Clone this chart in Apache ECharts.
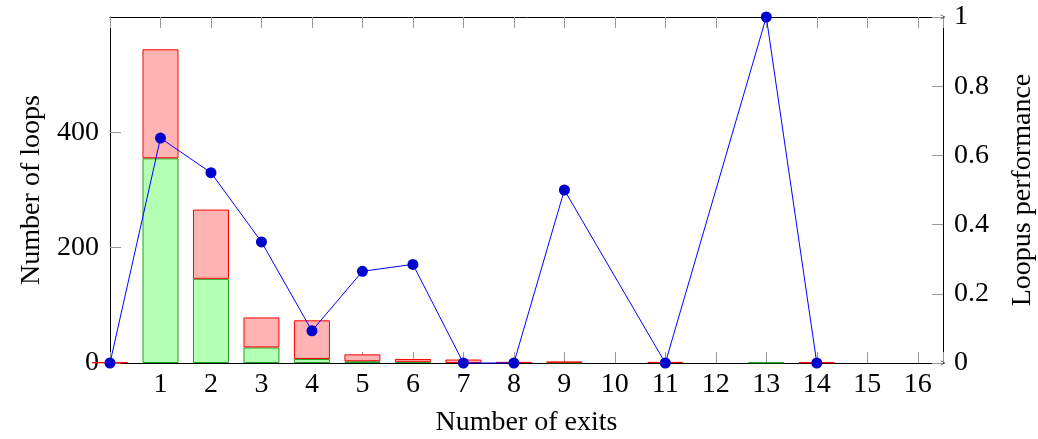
<!DOCTYPE html>
<html>
<head>
<meta charset="utf-8">
<script src="https://cdn.jsdelivr.net/npm/echarts@6/dist/echarts.min.js"></script>
<style>
  html, body { margin: 0; padding: 0; background: #fff; }
</style>
</head>
<body>
<div id='main' style='width: 1038px; height: 439px;'></div>
<script>
// number of exits (x) and loop counts per bar
const exits = [0, 1, 2, 3, 4, 5, 6, 7, 8, 9, 10, 11, 12, 13, 14, 15, 16]
const greenLoops = [0, 355, 146, 27, 7, 3, 2, 0, 0, 1, 0, 0, 0, 1, 0, 0, 0]
const redLoops = [1, 189, 120, 52, 67, 12, 5, 6, 2, 1, 0, 2, 0, 0, 1, 0, 0]

// Loopus performance line
const perfX = [0, 1, 2, 3, 4, 5, 6, 7, 8, 9, 11, 13, 14]
const perfY = [0, 0.65, 0.55, 0.35, 0.093, 0.265, 0.285, 0, 0, 0.5, 0, 1, 0]

const xMax = 16.5
const font = 'Liberation Serif'
const fs = 28
const chevron = 'path://M0,10 L5,0 L10,10 L9,10 L5,2 L1,10 Z'

// bars sit on a hidden category axis with half-unit slots so that 0..16.5 lines up
// with the visible value axis (stacking needs a category base axis)
const slots = []
for (let i = 0; i <= xMax * 2; i++) slots.push(String(i / 2))
const toSlots = (vals) => slots.map((s) => {
  const idx = exits.indexOf(Number(s))
  return idx >= 0 && vals[idx] ? vals[idx] : '-'
})

const chartDom = document.getElementById('main')
const myChart = echarts.init(chartDom)

const tickStyle = { show: true, inside: true, length: 11, lineStyle: { color: '#999', width: 1 } }
const axisLine = { show: true, onZero: false, lineStyle: { color: '#000', width: 1 } }
const arrowLine = { show: true, onZero: false, lineStyle: { color: '#000', width: 1 }, symbol: ['none', chevron], symbolSize: [8, 5] }
const labelStyle = { fontFamily: font, fontSize: fs, color: '#000' }

const option = {
  animation: false,
  textStyle: { fontFamily: font },
  grid: { left: 110, right: 95, top: 17, bottom: 76, containLabel: false, outerBoundsMode: 'none' },
  xAxis: [
    {
      type: 'value',
      min: 0,
      max: xMax,
      interval: 1,
      name: 'Number of exits',
      nameLocation: 'middle',
      nameGap: 46,
      nameTextStyle: labelStyle,
      axisLine: arrowLine,
      axisTick: tickStyle,
      splitLine: { show: false },
      axisLabel: {
        ...labelStyle, margin: 8,
        formatter: (v) => (v === 0 || v % 1 !== 0) ? '' : String(v)
      }
    },
    {
      type: 'value',
      position: 'top',
      min: 0,
      max: xMax,
      interval: 1,
      axisLine: arrowLine,
      axisTick: tickStyle,
      axisLabel: { show: false },
      splitLine: { show: false }
    },
    {
      type: 'category',
      data: slots,
      boundaryGap: false,
      show: false
    }
  ],
  yAxis: [
    {
      type: 'value',
      min: 0,
      max: 600,
      interval: 200,
      name: 'Number of loops',
      nameLocation: 'middle',
      nameGap: 64,
      nameTextStyle: labelStyle,
      axisLine: axisLine,
      axisTick: tickStyle,
      splitLine: { show: false },
      axisLabel: { ...labelStyle, margin: 11, showMaxLabel: false }
    },
    {
      type: 'value',
      min: 0,
      max: 1,
      interval: 0.2,
      position: 'right',
      name: 'Loopus performance',
      nameLocation: 'middle',
      nameGap: 66,
      nameRotate: 90,
      nameTextStyle: labelStyle,
      axisLine: axisLine,
      axisTick: tickStyle,
      splitLine: { show: false },
      axisLabel: { ...labelStyle, margin: 11 }
    }
  ],
  series: [
    {
      name: 'green',
      type: 'bar',
      stack: 'loops',
      barWidth: 36,
      clip: true,
      xAxisIndex: 2,
      yAxisIndex: 0,
      itemStyle: { color: '#b3ffb3', borderColor: '#22a022', borderWidth: 1 },
      data: toSlots(greenLoops)
    },
    {
      name: 'red',
      type: 'bar',
      stack: 'loops',
      barWidth: 36,
      clip: true,
      xAxisIndex: 2,
      yAxisIndex: 0,
      itemStyle: { color: '#ffb3b3', borderColor: '#ff0000', borderWidth: 1 },
      data: toSlots(redLoops)
    },
    {
      name: 'perf',
      type: 'line',
      xAxisIndex: 0,
      yAxisIndex: 1,
      symbol: 'circle',
      symbolSize: 11,
      clip: false,
      itemStyle: { color: '#0000cc' },
      lineStyle: { color: '#0000ff', width: 1 },
      data: perfX.map((x, i) => [x, perfY[i]])
    }
  ]
}

option && myChart.setOption(option)
</script>
</body>
</html>
